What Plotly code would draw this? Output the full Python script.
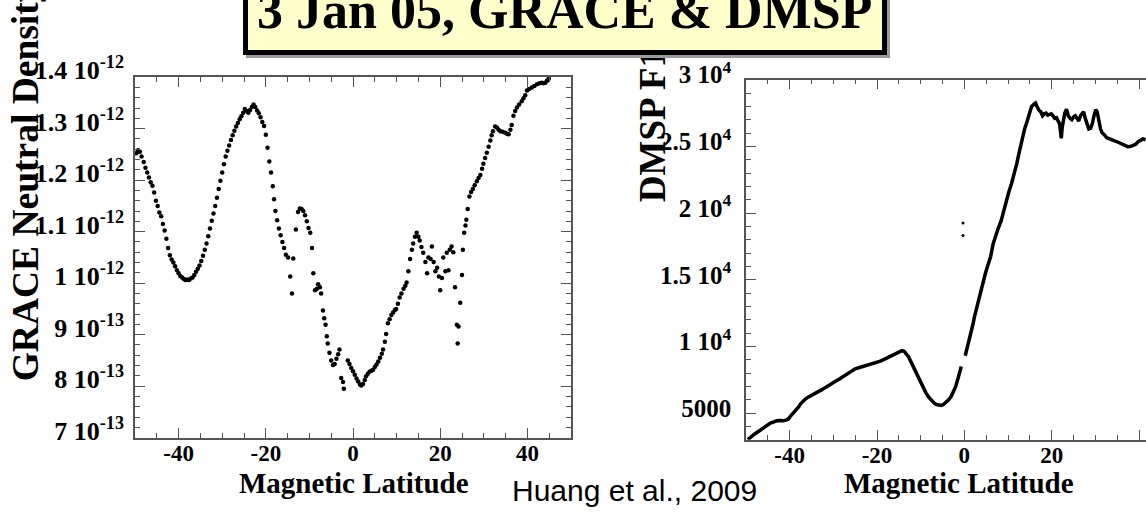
import plotly.graph_objects as go

W, H = 1146, 513

# GRACE neutral density along the track (magnetic latitude, density in 1e-12 kg/m^3)
grace_lat = [
    -49.7, -49.3, -48.9, -48.5, -48.0, -47.6, -47.2, -46.8, -46.4, -46.0,
    -45.6, -45.2, -44.8, -44.4, -44.0, -43.6, -43.2, -42.8, -42.4, -42.0,
    -41.6, -41.2, -40.8, -40.4, -40.0, -39.6, -39.2, -38.8, -38.4, -38.0,
    -37.6, -37.2, -36.8, -36.4, -36.0, -35.6, -35.2, -34.8, -34.4, -34.0,
    -33.6, -33.2, -32.8, -32.4, -32.0, -31.6, -31.2, -30.8, -30.4, -30.0,
    -29.6, -29.2, -28.8, -28.4, -28.0, -27.6, -27.2, -26.8, -26.4, -26.0,
    -25.6, -25.2, -24.8, -24.4, -24.0, -23.6, -23.2, -22.8, -22.4, -22.0,
    -21.6, -21.2, -20.8, -20.4, -20.0, -19.6, -19.2, -18.8, -18.4, -18.1,
    -17.8, -17.4, -17.0, -16.6, -16.2, -15.8, -15.4, -14.9, -14.4, -14.0,
    -13.7, -13.1, -12.6, -12.2, -11.8, -11.4, -11.0, -10.6, -10.2, -9.8,
    -9.4, -9.1, -8.7, -8.3, -8.0, -7.6, -7.3, -6.9, -6.6, -6.3,
    -6.0, -5.8, -5.4, -5.0, -4.6, -4.2, -3.8, -3.4, -3.1, -2.7,
    -2.3, -2.1, -1.2, -0.8, -0.4, 0.0, 0.4, 0.8, 1.2, 1.6,
    1.9, 2.3, 2.7, 3.0, 3.4, 3.8, 4.2, 4.6, 5.0, 5.4,
    5.8, 6.2, 6.6, 6.9, 7.3, 7.6, 8.0, 8.4, 8.8, 9.2,
    9.6, 9.9, 10.3, 10.7, 11.1, 11.6, 12.0, 12.3, 12.7, 13.1,
    13.5, 13.8, 14.2, 14.6, 15.0, 15.3, 15.7, 16.1, 16.6, 17.0,
    17.3, 17.8, 18.1, 18.5, 18.9, 19.3, 19.7, 20.0, 20.4, 20.7,
    21.2, 21.5, 21.9, 22.2, 22.6, 23.0, 23.4, 23.8, 24.0, 24.2,
    24.6, 25.0, 25.2, 25.5, 25.8, 26.0, 26.3, 26.7, 27.1, 27.5,
    27.9, 28.4, 28.8, 29.2, 29.6, 29.9, 30.3, 30.7, 31.1, 31.5,
    31.8, 32.1, 32.6, 33.0, 33.4, 33.8, 34.3, 34.9, 35.3, 35.7,
    36.1, 36.4, 36.8, 37.2, 37.6, 38.1, 38.7, 39.1, 39.5, 39.9,
    40.4, 41.0, 41.6, 42.2, 42.8, 43.3, 43.7, 44.1, 44.5, 44.9,
]
grace_rho = [
    1.252, 1.258, 1.255, 1.246, 1.235, 1.224, 1.215, 1.205, 1.196, 1.189,
    1.176, 1.160, 1.150, 1.137, 1.130, 1.115, 1.102, 1.086, 1.068, 1.054,
    1.046, 1.040, 1.033, 1.025, 1.019, 1.014, 1.011, 1.008, 1.006, 1.007,
    1.006, 1.009, 1.011, 1.016, 1.022, 1.028, 1.034, 1.043, 1.053, 1.065,
    1.077, 1.091, 1.106, 1.121, 1.135, 1.150, 1.166, 1.183, 1.199, 1.215,
    1.231, 1.246, 1.257, 1.267, 1.278, 1.287, 1.296, 1.304, 1.311, 1.318,
    1.324, 1.331, 1.338, 1.334, 1.331, 1.336, 1.342, 1.347, 1.342, 1.335,
    1.330, 1.322, 1.313, 1.305, 1.288, 1.263, 1.236, 1.215, 1.188, 1.163,
    1.140, 1.122, 1.106, 1.093, 1.080, 1.068, 1.055, 1.050, 1.013, 0.980,
    1.048, 1.104, 1.138, 1.145, 1.144, 1.140, 1.132, 1.120, 1.107, 1.098,
    1.068, 1.019, 0.986, 0.989, 0.998, 0.992, 0.980, 0.947, 0.932, 0.919,
    0.897, 0.883, 0.865, 0.850, 0.841, 0.843, 0.853, 0.862, 0.871, 0.816,
    0.808, 0.795, 0.850, 0.843, 0.835, 0.829, 0.822, 0.815, 0.809, 0.803,
    0.801, 0.804, 0.812, 0.819, 0.824, 0.828, 0.830, 0.832, 0.837, 0.842,
    0.848, 0.855, 0.863, 0.871, 0.886, 0.901, 0.922, 0.930, 0.938, 0.943,
    0.948, 0.950, 0.960, 0.972, 0.980, 0.989, 0.995, 1.001, 1.023, 1.047,
    1.065, 1.077, 1.090, 1.098, 1.090, 1.083, 1.070, 1.059, 1.041, 1.019,
    1.050, 1.047, 1.071, 1.041, 1.023, 1.030, 1.013, 0.986, 1.010, 1.050,
    1.023, 1.059, 1.025, 1.065, 1.071, 1.060, 0.992, 0.919, 0.883, 0.916,
    0.962, 1.016, 1.065, 1.098, 1.112, 1.123, 1.144, 1.168, 1.177, 1.183,
    1.190, 1.198, 1.204, 1.210, 1.222, 1.232, 1.243, 1.253, 1.265, 1.277,
    1.287, 1.295, 1.304, 1.302, 1.298, 1.295, 1.294, 1.292, 1.290, 1.289,
    1.298, 1.307, 1.325, 1.334, 1.341, 1.347, 1.353, 1.359, 1.365, 1.374,
    1.377, 1.380, 1.383, 1.386, 1.388, 1.389, 1.388, 1.389, 1.393, 1.397,
]

# DMSP ion density along the track (None marks a data gap)
dmsp_lat = [
    -49.6, -49.0, -48.3, -47.5, -46.8, -46.0, -45.2, -44.4, -43.6, -43.0,
    -42.2, -41.5, -40.9, -40.3, -39.8, -39.2, -38.6, -38.0, -37.5, -37.0,
    -36.4, -35.8, -35.0, -34.2, -33.4, -32.6, -31.8, -31.0, -30.2, -29.4,
    -28.6, -27.8, -27.0, -26.4, -25.8, -25.0, -24.2, -23.4, -22.6, -21.8,
    -21.0, -20.2, -19.4, -18.6, -17.8, -17.0, -16.2, -15.4, -14.8, -14.3,
    -13.8, -13.3, -12.8, -12.3, -11.8, -11.2, -10.6, -10.0, -9.4, -8.8,
    -8.2, -7.6, -7.0, -6.4, -5.8, -5.3, -4.8, -4.2, -3.6, -3.0,
    -2.5, -2.0, -1.6, -1.2, -0.9, -0.7, None,
    0.2, 0.6, 1.0, 1.5, 2.0, 2.3, 2.6, 3.1, 3.6, 4.2,
    4.8, 5.4, 6.0, 6.6, 7.2, 7.8, 8.4, 9.0, 9.6, 10.2,
    10.8, 11.4, 12.0, 12.6, 13.2, 13.8, 14.4, 14.9, 15.4, 15.9,
    16.3, 16.7, 17.1, 17.5, 17.9, 18.3, 18.7, 19.1, 19.5, 19.9,
    20.3, 20.7, 21.1, 21.5, 21.8, 22.0, 22.2, 22.4, 22.7, 23.0,
    23.4, 23.8, 24.2, 24.6, 25.0, 25.4, 25.8, 26.2, 26.6, 27.0,
    27.3, 27.7, 28.1, 28.5, 28.9, 29.3, 29.7, 30.1, 30.4, 30.8,
    31.2, 31.6, 32.0, 32.6, 33.2, 33.8, 34.4, 35.0, 35.6, 36.2,
    36.8, 37.4, 38.0, 38.6, 39.2, 39.8, 40.4, 40.9, 41.5,
]
dmsp_ni = [
    3000, 3200, 3365, 3550, 3715, 3900, 4100, 4250, 4340, 4420,
    4440, 4420, 4470, 4560, 4780, 4980, 5180, 5450, 5700, 5880,
    6050, 6200, 6330, 6450, 6580, 6760, 6930, 7110, 7260, 7400,
    7560, 7730, 7900, 8080, 8220, 8320, 8400, 8480, 8540, 8610,
    8670, 8760, 8880, 8990, 9120, 9270, 9440, 9580, 9660, 9690,
    9640, 9480, 9230, 8900, 8560, 8120, 7660, 7230, 6850, 6520,
    6220, 5970, 5780, 5640, 5570, 5580, 5640, 5780, 5990, 6260,
    6600, 6980, 7420, 7900, 8250, 8500, None,
    9300, 9800, 10300, 10950, 11700, 12200, 12600, 13300, 14000, 14750,
    15450, 16100, 16700, 17700, 18400, 18900, 19400, 20200, 20900, 21600,
    22200, 22900, 23700, 24600, 25500, 26300, 26900, 27500, 28000, 28150,
    28250, 27950, 27700, 27600, 27300, 27450, 27500, 27350, 27400, 27450,
    27300, 27100, 27150, 26900, 26700, 26200, 25600, 26400, 27000, 27500,
    27790, 27300, 27100, 27000, 27200, 27300, 27100, 26900, 27300, 27500,
    27600, 27100, 26600, 26300, 26350, 26700, 27300, 27750, 27600, 26800,
    26300, 26000, 25900, 25650, 25550, 25500, 25420, 25350, 25250, 25150,
    25020, 24980, 24990, 25050, 25150, 25350, 25500, 25560, 25500,
]
# two isolated DMSP samples near the magnetic equator
dmsp_spike_lat = [-0.3, -0.3]
dmsp_spike_ni = [19260, 18320]

lat_ticks = [-40, -20, 0, 20, 40]
rho_ticks = [0.7, 0.8, 0.9, 1.0, 1.1, 1.2, 1.3, 1.4]
rho_labels = ["7 10<sup>-13</sup>", "8 10<sup>-13</sup>", "9 10<sup>-13</sup>",
              "1 10<sup>-12</sup>", "1.1 10<sup>-12</sup>", "1.2 10<sup>-12</sup>",
              "1.3 10<sup>-12</sup>", "1.4 10<sup>-12</sup>"]
ni_ticks = [5000, 10000, 15000, 20000, 25000, 30000]
ni_labels = ["5000", "1 10<sup>4</sup>", "1.5 10<sup>4</sup>", "2 10<sup>4</sup>",
             "2.5 10<sup>4</sup>", "3 10<sup>4</sup>"]

SERIF = "Liberation Serif"
AXC = "#555555"


def px(x):
    return x / W


def py(y):
    return (H - y) / H


fig = go.Figure()
fig.add_trace(go.Scatter(
    x=grace_lat, y=[v * 1e-12 for v in grace_rho], mode="markers",
    marker=dict(color="black", size=4.5), xaxis="x", yaxis="y", showlegend=False))
fig.add_trace(go.Scatter(
    x=dmsp_lat, y=dmsp_ni, mode="lines", connectgaps=False,
    line=dict(color="black", width=3.5), xaxis="x2", yaxis="y2", showlegend=False))
fig.add_trace(go.Scatter(
    x=dmsp_spike_lat, y=dmsp_spike_ni, mode="markers",
    marker=dict(color="black", size=3), xaxis="x2", yaxis="y2", showlegend=False))

common_x = dict(
    tickmode="array", tickvals=lat_ticks, ticktext=[str(v) for v in lat_ticks],
    ticks="inside", ticklen=10, tickwidth=1.2, tickcolor=AXC,
    showline=True, linecolor=AXC, linewidth=1.5, showgrid=False, zeroline=False,
    ticklabelstandoff=-6,
    tickfont=dict(family=SERIF, size=23, color="black", weight="bold"),
    minor=dict(tickmode="linear", tick0=0, dtick=5, ticks="inside", ticklen=5,
               tickcolor=AXC, tickwidth=1.2, showgrid=False),
)

fig.update_layout(
    width=W, height=H, margin=dict(l=0, r=0, t=0, b=0),
    paper_bgcolor="white", plot_bgcolor="white",
    xaxis=dict(common_x, domain=[px(135), px(571)], range=[-50, 50],
               anchor="y", mirror="ticks"),
    yaxis=dict(
        domain=[py(441), py(55.7)], range=[0.7e-12, 1.4e-12], anchor="x",
        tickmode="array", tickvals=[v * 1e-12 for v in rho_ticks], ticktext=rho_labels,
        ticks="inside", ticklen=10, tickwidth=1.2, tickcolor=AXC,
        showline=True, linecolor=AXC, linewidth=1.5, mirror="ticks",
        showgrid=False, zeroline=False, ticklabelstandoff=4, ticklabelshift=-7,
        tickfont=dict(family=SERIF, size=26, color="black", weight="bold"),
        minor=dict(tickmode="linear", tick0=0, dtick=0.02e-12, ticks="inside",
                   ticklen=5, tickcolor=AXC, tickwidth=1.2, showgrid=False),
    ),
    xaxis2=dict(common_x, domain=[px(746), 1.0], range=[-50, 41.6],
                anchor="y2", mirror="ticks"),
    yaxis2=dict(
        domain=[py(443.3), py(58.5)], range=[3000, 30000], anchor="x2",
        tickmode="array", tickvals=ni_ticks, ticktext=ni_labels,
        ticks="inside", ticklen=10, tickwidth=1.2, tickcolor=AXC,
        showline=True, linecolor=AXC, linewidth=1.5,
        showgrid=False, zeroline=False, ticklabelstandoff=8, ticklabelshift=-5,
        tickfont=dict(family=SERIF, size=25, color="black", weight="bold"),
        minor=dict(tickmode="linear", tick0=0, dtick=1000, ticks="inside",
                   ticklen=5, tickcolor=AXC, tickwidth=1.2, showgrid=False),
    ),
)

ann = []
# axis titles
ann.append(dict(text="Magnetic Latitude", x=px(354), y=py(489), xref="paper", yref="paper",
                xanchor="center", yanchor="middle", showarrow=False,
                font=dict(family=SERIF, size=29, color="black", weight="bold")))
ann.append(dict(text="Magnetic Latitude", x=px(959), y=py(489), xref="paper", yref="paper",
                xanchor="center", yanchor="middle", showarrow=False,
                font=dict(family=SERIF, size=29, color="black", weight="bold")))
ann.append(dict(text="GRACE Neutral Density", x=px(25), y=py(383), xref="paper", yref="paper",
                xanchor="center", yanchor="bottom", textangle=-90, showarrow=False,
                font=dict(family=SERIF, size=37.5, color="black", weight="bold")))
ann.append(dict(text="DMSP F16 Ion Density", x=px(652), y=py(192), xref="paper", yref="paper",
                xanchor="center", yanchor="bottom", textangle=-90, showarrow=False,
                font=dict(family=SERIF, size=37, color="black", weight="bold")))
# citation
ann.append(dict(text="Huang et al., 2009", x=px(634), y=py(498), xref="paper", yref="paper",
                xanchor="center", yanchor="middle", showarrow=False,
                font=dict(family="Liberation Sans", size=30, color="black")))

# title panel: drop shadow, framed yellow box, then the title text on top;
# all drawn after the axis titles so the box covers the right-hand one
panel = dict(text="&nbsp;", xref="paper", yref="paper", xanchor="left", yanchor="bottom",
             showarrow=False, width=630, height=70, borderwidth=5, borderpad=2,
             font=dict(size=10))
ann.append(dict(panel, x=px(246), y=py(35), bgcolor="#9a9a9a", bordercolor="#9a9a9a",
                font=dict(size=10, color="#9a9a9a")))
ann.append(dict(panel, x=px(243), y=py(32), bgcolor="#FFFFCC", bordercolor="black",
                font=dict(size=10, color="#FFFFCC")))
ann.append(dict(text="3 Jan 05, GRACE &amp; DMSP", x=px(564), y=py(-15),
                xref="paper", yref="paper", xanchor="center", yanchor="middle",
                showarrow=False,
                font=dict(family=SERIF, size=52, color="black", weight="bold")))
fig.update_layout(annotations=ann)

fig.write_html("out.html")
